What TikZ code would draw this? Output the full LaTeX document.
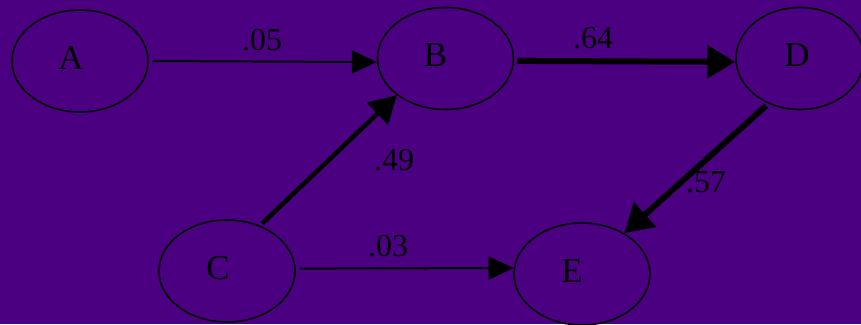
\documentclass[tikz,border=0pt]{standalone}
\usepackage{fontspec}
\setmainfont{Liberation Serif}
\usetikzlibrary{shapes.geometric,arrows.meta}
\definecolor{bg}{HTML}{4B0082}
\begin{document}
\begin{tikzpicture}[x=1pt,y=-1pt,
  state/.style={ellipse,draw=black,line width=1.6pt,minimum width=136pt,minimum height=102pt,inner sep=0pt},
  stxt/.style 2 args={label={[font=\fontsize{35}{35}\selectfont,text=black,inner sep=0pt,xshift=#2,yshift=3pt]center:#1}},
  lbl/.style={font=\fontsize{32}{32}\selectfont,text=black,inner sep=0pt},
  edgethin/.style={draw=black,line width=2pt,-{Triangle[length=25pt,width=23pt]},shorten <=4pt},
  edgemid/.style={draw=black,line width=4.5pt,-{Triangle[length=27pt,width=30pt]},shorten <=3pt},
  edgethick/.style={draw=black,line width=6pt,-{Triangle[length=28pt,width=32pt]},shorten <=3pt}
]
\useasboundingbox (0,0) rectangle (861,324);
\fill[bg] (0,0) rectangle (861,324);
\clip (0,0) rectangle (861,324);
\node[state,stxt={A}{-9pt}] (A) at (80,61) {};
\node[state,stxt={B}{-10pt}] (B) at (445.5,58.5) {};
\node[state,minimum width=128pt,stxt={D}{-3pt}] (D) at (800,58.5) {};
\node[state,stxt={C}{-9pt}] (C) at (227,271) {};
\node[state,stxt={E}{-10pt}] (E) at (582,274) {};
\draw[edgethin] (A.0) -- (B.183);
\draw[edgethick] (B.358) -- (D.183);
\draw[edgemid] (C.54) -- (B.217);
\draw[edgethick] (D.235) -- (E.44);
\draw[edgethin] (C.2) -- (E.175);
\node[lbl] (l05) at (262,40) {.05};
\node[lbl] (l64) at (593,38) {.64};
\node[lbl] (l49) at (394,160) {.49};
\node[lbl] (l57) at (706,182) {.57};
\node[lbl] (l03) at (388,246) {.03};
\end{tikzpicture}
\end{document}
